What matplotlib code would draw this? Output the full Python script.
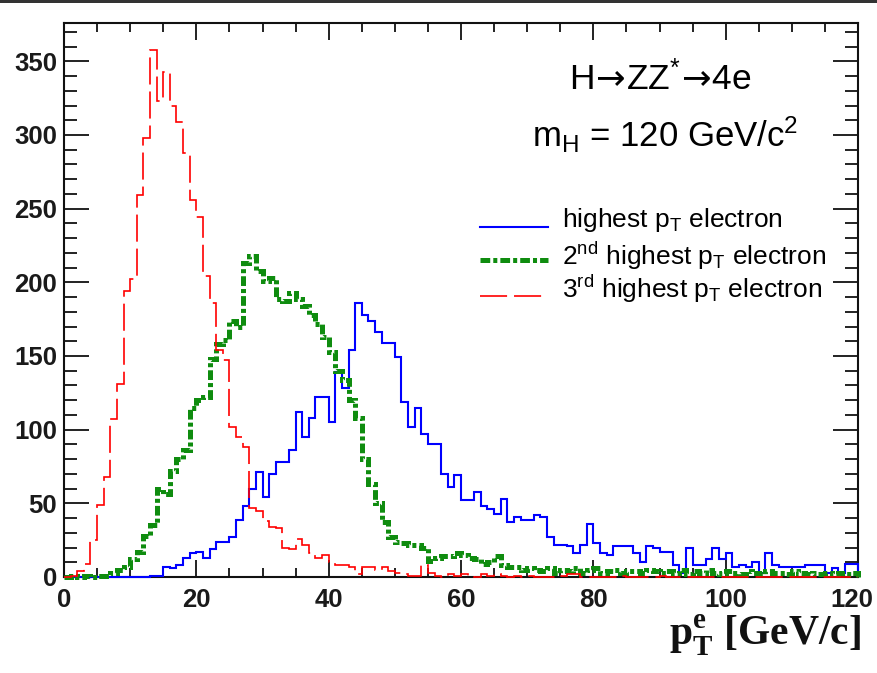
import numpy as np
import matplotlib
matplotlib.use('Agg')
import matplotlib.pyplot as plt
import matplotlib.transforms as mtransforms
from matplotlib.patches import Rectangle
from matplotlib.lines import Line2D
from matplotlib.ticker import MultipleLocator

plt.rcParams['mathtext.fontset'] = 'custom'
plt.rcParams['mathtext.rm'] = 'Liberation Sans'
plt.rcParams['mathtext.it'] = 'Liberation Sans:italic'
plt.rcParams['mathtext.bf'] = 'Liberation Serif:bold'
plt.rcParams['mathtext.sf'] = 'DejaVu Sans'
plt.rcParams['font.family'] = ['Liberation Sans', 'DejaVu Sans']
plt.rcParams['lines.scale_dashes'] = False

# 1 GeV bins, 0 - 120 GeV/c
bin_edges = np.arange(0, 121, 1)

# highest pT electron
pt1 = [0, 0, 0, 0, 0, 0, 0, 0, 0, 0,
       0, 0, 0, 1, 1, 7, 6, 8, 13, 16,
       17, 13, 19, 24, 24, 27, 39, 48, 60, 71,
       54, 70, 78, 78, 86, 112, 95, 108, 122, 122,
       105, 139, 128, 154, 186, 178, 174, 166, 159, 159,
       149, 119, 102, 115, 97, 90, 90, 70, 61, 69,
       52, 52, 58, 48, 46, 43, 53, 37, 41, 39,
       39, 42, 41, 27, 22, 22, 21, 16, 22, 36,
       23, 16, 15, 21, 21, 21, 16, 10, 21, 20,
       17, 17, 8, 3, 20, 8, 8, 12, 20, 12,
       16, 7, 8, 7, 10, 3, 16, 8, 7, 7,
       7, 7, 8, 8, 8, 3, 6, 3, 9, 9]

# 2nd highest pT electron
pt2 = [0, 1, 0, 1, 0, 1, 1, 3, 5, 7,
       12, 17, 28, 35, 60, 56, 72, 80, 86, 115,
       120, 122, 148, 158, 161, 174, 170, 213, 218, 208,
       201, 203, 189, 187, 193, 189, 184, 178, 172, 163,
       153, 140, 134, 120, 108, 80, 63, 50, 37, 27,
       24, 23, 22, 22, 20, 11, 13, 14, 14, 16,
       15, 13, 12, 9, 10, 14, 8, 7, 7, 5,
       6, 5, 4, 6, 3, 5, 4, 6, 3, 5,
       6, 3, 4, 5, 3, 4, 4, 3, 5, 4,
       3, 4, 3, 5, 2, 4, 3, 5, 3, 2,
       4, 3, 2, 4, 3, 2, 4, 3, 3, 2,
       4, 3, 2, 3, 2, 3, 2, 3, 2, 3]

# 3rd highest pT electron
pt3 = [0, 1, 4, 9, 25, 49, 68, 107, 131, 194,
       202, 259, 298, 358, 323, 343, 320, 309, 288, 256,
       244, 204, 186, 154, 147, 102, 95, 88, 47, 45,
       38, 34, 33, 20, 19, 26, 22, 16, 13, 15,
       10, 8, 8, 7, 2, 7, 7, 5, 7, 4,
       3, 2, 1, 1, 8, 3, 1, 0, 2, 1,
       2, 1, 0, 2, 1, 2, 1, 0, 1, 0,
       1, 0, 0, 0, 0, 1, 2, 2, 0, 0,
       0, 0, 0, 0, 1, 0, 0, 0, 0, 0,
       1, 0, 0, 0, 0, 0, 0, 0, 0, 0,
       0, 0, 0, 0, 0, 0, 0, 0, 0, 0,
       0, 0, 0, 0, 0, 0, 0, 0, 0, 0]

labels = [r'highest p$_{\mathrm{T}}$ electron',
          r'2$^{\mathrm{nd}}$ highest p$_{\mathrm{T}}$ electron',
          r'3$^{\mathrm{rd}}$ highest p$_{\mathrm{T}}$ electron']
x_ticks = [0, 20, 40, 60, 80, 100, 120]
y_ticks = [0, 50, 100, 150, 200, 250, 300, 350]

W, H = 877, 673
blue = '#0000ff'
green = '#0f8c0f'
red = '#ff0000'
green_ls = (0, (7, 2.2, 2.9, 2.2))
red_ls = (0, (19.5, 5))

fig = plt.figure(figsize=(W/100, H/100), dpi=100)
ax = fig.add_axes([64/W, 1-577/H, (858-64)/W, (577-23)/H])

ax.stairs(pt1, bin_edges, color=blue, lw=1.5, zorder=3, clip_on=False)
ax.stairs(pt2, bin_edges, color=green, lw=3.6, linestyle=green_ls, zorder=3, clip_on=False)
ax.stairs(pt3, bin_edges, color=red, lw=1.2, linestyle=red_ls, zorder=3, clip_on=False)

ax.set_xlim(0, 120)
ax.set_ylim(0, 376)
ax.set_xticks(x_ticks, [str(t) for t in x_ticks], fontweight='bold', fontsize=18.5, color='#1a1a1a')
ax.set_yticks(y_ticks, [str(t) for t in y_ticks], fontweight='bold', fontsize=18.5, color='#1a1a1a')
ax.xaxis.set_minor_locator(MultipleLocator(5))
ax.yaxis.set_minor_locator(MultipleLocator(10))
ax.tick_params(which='both', direction='in', top=True, right=True, width=1.3, color='#111111')
ax.tick_params(axis='x', which='major', length=12.2, pad=8)
ax.tick_params(axis='x', which='minor', length=6.5)
ax.tick_params(axis='y', which='major', length=18, pad=5)
ax.tick_params(axis='y', which='minor', length=9.4)
for s in ax.spines.values():
    s.set_linewidth(1.5)
    s.set_color('#111111')

# last x label sits a bit inside, as in the original
last = ax.get_xticklabels()[-1]
last.set_transform(last.get_transform() + mtransforms.ScaledTranslation(-6/100, 0, fig.dpi_scale_trans))

# axis title, ROOT style at the right end
fig.text(861/W, 1-645/H, r'$\mathbf{p}_{\mathbf{T}}^{\mathbf{e}}$ [GeV/c]', ha='right', va='baseline',
         fontsize=30, fontfamily='Liberation Serif', fontweight='bold', color='#111111')

fig.text(660/W, 1-90/H, r'H$\!\mathsf{\rightarrow}\!$ZZ$^{*}$$\!\mathsf{\rightarrow}\!$4e',
         ha='center', va='baseline', fontsize=25.5)
fig.text(665/W, 1-147/H, r'm$_{\mathrm{H}}$ = 120 GeV/c$^{2}$', ha='center', va='baseline', fontsize=25)

# legend
leg_y = [227, 260, 296]
txt_y = [227, 265, 298]
styles = [dict(color=blue, lw=1.5), dict(color=green, lw=3.6, linestyle=green_ls),
          dict(color=red, lw=1.2, linestyle=red_ls)]
for ly, ty, lab, st in zip(leg_y, txt_y, labels, styles):
    fig.add_artist(Line2D([480/W, 548/W], [1-ly/H, 1-ly/H], transform=fig.transFigure, **st))
    fig.text(562/W, 1-ty/H, lab, ha='left', va='baseline', fontsize=19)

fig.add_artist(Rectangle((0, 1-3/H), 1, 3/H, transform=fig.transFigure,
                         facecolor='#333333', edgecolor='none'))

fig.savefig('out.png', dpi=100)
